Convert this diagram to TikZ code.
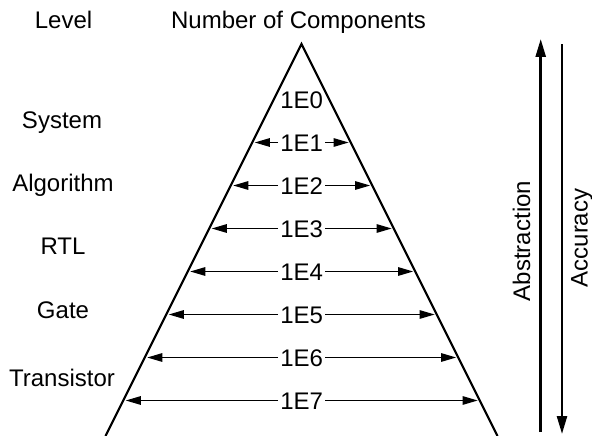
\documentclass[tikz,border=0pt]{standalone}
\usepackage{fontspec}
\setmainfont{Liberation Sans}
\usetikzlibrary{arrows.meta}
\begin{document}
\begin{tikzpicture}[x=1bp,y=-1bp,
  lab/.style={font=\fontsize{24bp}{28bp}\selectfont, text height=17.2bp, text depth=0bp, inner sep=0bp},
  num/.style={lab, inner xsep=2bp},
  side/.style={line width=2.2bp},
  harrow/.style={line width=1.2bp, -{Triangle[length=15bp,width=8.5bp]}},
  varrow/.style={line width=2.5bp, -{Triangle[length=18bp,width=10bp]}}]
\useasboundingbox (0,0) rectangle (592,436);

% column headings
\node[lab] (level) at (63.5,20) {Level};
\node[lab] (count) at (298.5,20) {Number of Components};

% abstraction levels
\node[lab] (system) at (62,120) {System};
\node[lab] (algo) at (63,183) {Algorithm};
\node[lab] (rtl) at (63,246) {RTL};
\node[lab] (gate) at (63,310) {Gate};
\node[lab] (trans) at (62,378) {Transistor};

% the pyramid
\coordinate (apex) at (301.5,44);
\coordinate (bl) at (105.5,436);
\coordinate (br) at (497.5,436);
\draw[side] (bl) -- (apex) -- (br);

% component counts with width arrows
\node[num] (n0) at (301.7,99.5) {1E0};
\foreach \k in {1,...,7} {
  \pgfmathsetmacro{\yy}{99.5+43*\k}
  \pgfmathsetmacro{\hw}{0.5*(\yy-44)-2.3}
  \node[num] (n\k) at (301.7,\yy) {1E\k};
  \coordinate (l\k) at ({301.7-\hw},\yy);
  \coordinate (r\k) at ({301.7+\hw},\yy);
  \draw[harrow] (n\k) -- (l\k);
  \draw[harrow] (n\k) -- (r\k);
}

% abstraction / accuracy trends
\coordinate (abot) at (540.7,432);
\coordinate (atop) at (540.7,39);
\draw[varrow] (abot) -- (atop);
\coordinate (ctop) at (562,44.3);
\coordinate (cbot) at (562,434);
\draw[varrow] (ctop) -- (cbot);
\node[lab, rotate=90] (abs) at (521.5,241) {Abstraction};
\node[lab, rotate=90] (acc) at (579,238) {Accuracy};
\end{tikzpicture}
\end{document}
